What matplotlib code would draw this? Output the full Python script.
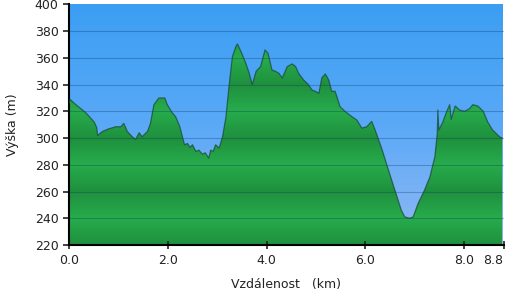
import numpy as np
import matplotlib.pyplot as plt
from matplotlib.colors import LinearSegmentedColormap

# elevation profile (km, m)
dist = [0.00, 0.02, 0.14, 0.34, 0.51, 0.56, 0.58, 0.68, 0.81, 0.95, 1.05, 1.11, 1.18,
        1.28, 1.35, 1.42, 1.48, 1.59, 1.65, 1.72, 1.82, 1.94, 1.99, 2.09, 2.16, 2.24,
        2.34, 2.40, 2.45, 2.50, 2.57, 2.63, 2.70, 2.76, 2.83, 2.87, 2.92, 2.97, 3.04,
        3.11, 3.18, 3.24, 3.31, 3.38, 3.41, 3.48, 3.58, 3.65, 3.71, 3.79, 3.88, 3.97,
        4.03, 4.11, 4.18, 4.25, 4.32, 4.42, 4.52, 4.59, 4.65, 4.75, 4.85, 4.92, 4.99,
        5.06, 5.12, 5.19, 5.26, 5.32, 5.39, 5.49, 5.59, 5.73, 5.83, 5.93, 6.03, 6.13,
        6.20, 6.33, 6.47, 6.60, 6.73, 6.80, 6.90, 6.97, 7.07, 7.20, 7.31, 7.41, 7.46,
        7.47, 7.49, 7.57, 7.64, 7.71, 7.74, 7.82, 7.91, 8.01, 8.11, 8.18, 8.28, 8.39,
        8.48, 8.58, 8.72, 8.77]
elev = [326, 329, 325, 319, 312, 308, 302, 305, 307, 308.5, 308.5, 311, 305,
        301, 299, 304, 301, 305, 311, 325, 330, 330, 325, 319, 316, 309,
        295, 296, 293, 295, 290, 291, 288, 289, 285, 291, 290, 295, 292.5,
        301, 316, 338.5, 361, 368.5, 370.5, 365, 356, 348.5, 340, 350, 353.5, 366,
        363.5, 351, 350, 348.5, 345, 353.5, 355.5, 353.5, 348.5, 343.5, 340, 336, 335,
        333.5, 345, 348, 343.5, 335, 335, 323.5, 320, 316, 313.5, 307.5, 308.5, 312.5,
        306, 292.5, 276, 261, 246, 241, 240, 241, 251, 261, 271, 286, 304,
        321, 306, 312, 319, 325, 314, 324, 321, 320, 322, 325, 324, 320,
        312, 306, 301, 300]

xticks = [0.0, 2.0, 4.0, 6.0, 8.0, 8.8]
xticklabels = ['0.0', '2.0', '4.0', '6.0', '8.0', '8.8']
yticks = list(range(220, 401, 20))

ymin, ymax = 220, 400
xmax = dist[-1]

fig = plt.figure(figsize=(5.10, 2.96), dpi=100)
ax = fig.add_axes([0.1353, 0.1723, 0.852, 0.8125])

# sky gradient
sky = LinearSegmentedColormap.from_list('sky', ['#91b9f4', '#5aa9f7', '#3b9ef3'])
ax.imshow(np.linspace(0, 1, 256).reshape(-1, 1), cmap=sky, origin='lower',
          extent=[0, xmax, ymin, ymax], aspect='auto', zorder=0)

# green fill with banded gradient, clipped to the profile
yy = np.linspace(ymin, ymax, 720)
phase = ((yy - ymin) % 40) / 40.0
band = 1 - np.abs(phase - 0.5) * 2
green = LinearSegmentedColormap.from_list('grn', ['#1f903e', '#27ac4c'])
poly = ax.fill_between(dist, elev, ymin, color='none', zorder=1)
im = ax.imshow(band.reshape(-1, 1), cmap=green, origin='lower',
               extent=[0, xmax, ymin, ymax], aspect='auto', zorder=1)
im.set_clip_path(poly.get_paths()[0], transform=ax.transData)
ax.plot(dist, elev, color='#1b4a38', lw=0.9, alpha=0.75, zorder=3)

for y in yticks[1:-1]:
    ax.axhline(y, color='#0c2f5a', lw=0.8, alpha=0.3, zorder=2)

ax.set_xlim(0, xmax)
ax.set_ylim(ymin, ymax)
ax.set_xticks(xticks)
ax.set_xticklabels(xticklabels)
ax.get_xticklabels()[-1].set_horizontalalignment('right')
ax.set_yticks(yticks)
ax.spines['top'].set_visible(False)
ax.spines['right'].set_visible(False)
ax.spines['left'].set_linewidth(1.5)
ax.spines['bottom'].set_linewidth(1.5)
ax.tick_params(axis='both', labelsize=9, colors='#222222', width=1.2, length=4)
ax.tick_params(axis='x', direction='inout', length=6)
ax.set_xlabel('Vzdálenost   (km)', fontsize=9, color='#222222', labelpad=8)
ax.set_ylabel('Výška (m)', fontsize=9, color='#222222', labelpad=11)

fig.savefig('out.png', dpi=100)
